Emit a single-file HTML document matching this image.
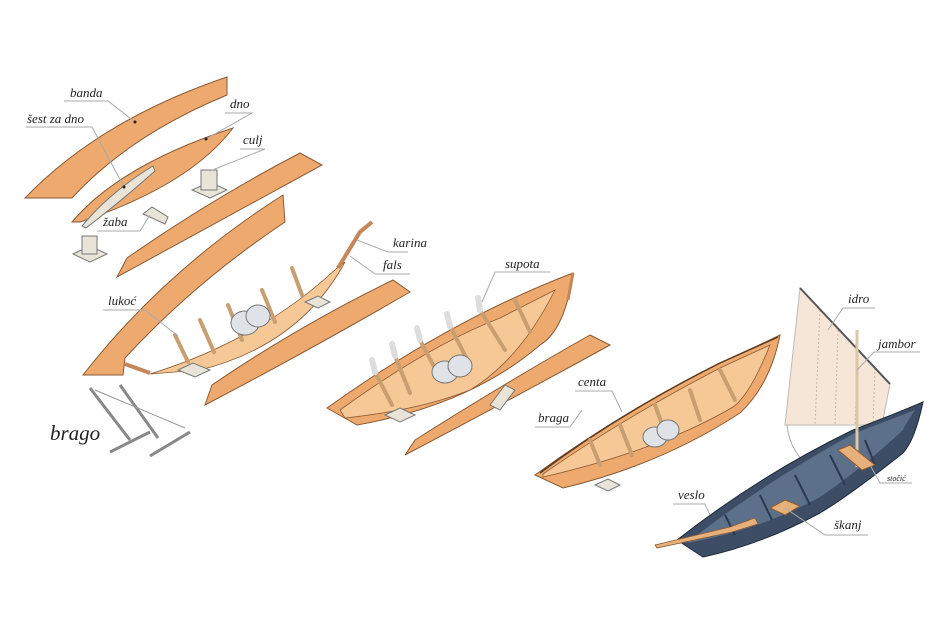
<!DOCTYPE html>
<html><head><meta charset="utf-8"><style>
html,body{margin:0;padding:0;background:#fff;}
svg{display:block;}
text{font-family:"Liberation Serif","DejaVu Serif",serif;font-style:italic;fill:#222;font-size:13px;}
.l{stroke:#aaa;stroke-width:1;fill:none;}
.p{fill:#eeaa6e;stroke:#8a5a34;stroke-width:1;}
.p2{fill:#f6c896;stroke:#8a5a34;stroke-width:0.8;}
.fr{fill:none;stroke:#c99e70;stroke-width:4;stroke-linecap:round;}
.fb{fill:none;stroke:#2c3a50;stroke-width:2;}
.w{fill:#e8e4d8;stroke:#777;stroke-width:1;}
.st{fill:#dfe2e6;stroke:#777;stroke-width:1;}
.d{fill:#222;}
</style></head><body>
<svg width="950" height="633" viewBox="0 0 950 633">
<!-- banda plank -->
<path class="p" d="M25,198 Q100,120 227,77 L227,95 Q130,135 72,198 Z"/>
<!-- dno -->
<path class="p" d="M72,222 Q120,165 233,128 Q190,185 80,222 Z"/>
<path class="w" d="M82,226 Q110,192 153,166 L155,171 Q120,202 86,228 Z"/>
<!-- culj -->
<path class="w" d="M192,190 L210,182 L227,190 L210,198 Z"/>
<rect class="w" x="201" y="170" width="16" height="20"/>
<!-- zaba -->
<path class="w" d="M143,214 L152,207 L168,217 L165,224 Z"/>
<!-- block -->
<path class="w" d="M73,254 L90,246 L107,254 L90,262 Z"/>
<rect class="w" x="82" y="236" width="15" height="18"/>
<!-- plank 2 -->
<path class="p" d="M127,258 Q210,200 300,153 L322,165 Q230,215 117,277 Z"/>
<!-- boat 1 -->
<path class="p2" d="M150,374 Q260,340 337,268 L345,262 Q300,345 200,370 Z"/>
<path class="p" d="M83,375 Q165,270 283,195 L285,222 Q195,282 125,358 L123,375 Z"/>
<path d="M338,268 L360,232 L372,222" stroke="#c5875a" stroke-width="4" fill="none"/>
<path d="M125,364 L150,373" stroke="#c5875a" stroke-width="4" fill="none"/>
<g class="fr"><path d="M175,335 L188,362"/><path d="M200,320 L214,352"/><path d="M228,305 L242,340"/><path d="M262,290 L275,322"/><path d="M292,268 L302,295"/></g>
<path class="w" d="M178,370 L193,363 L210,370 L195,377 Z"/>
<path class="w" d="M305,302 L318,296 L330,302 L318,308 Z"/>
<ellipse class="st" cx="245" cy="323" rx="14" ry="12"/><ellipse class="st" cx="258" cy="316" rx="12" ry="11"/>
<!-- plank 3 -->
<path class="p" d="M212,385 Q300,325 393,280 L410,292 Q310,350 205,405 Z"/>
<!-- brago -->
<g stroke="#888" stroke-width="3" fill="none"><path d="M90,388 L130,440"/><path d="M120,385 L158,438"/><path d="M110,452 L150,432"/><path d="M150,456 L190,432"/></g>
<path d="M95,390 L185,428" stroke="#999" stroke-width="1" fill="none"/>
<!-- boat 2 -->
<path class="p" d="M327,408 Q450,320 573,273 Q565,330 540,345 Q470,405 357,425 Z"/>
<path class="p2" d="M340,410 Q430,345 500,318 L555,290 Q520,360 470,390 Q420,410 345,418 Z"/>
<path d="M573,273 L568,300" stroke="#c5875a" stroke-width="3"/>
<g class="fr"><path d="M375,372 L392,405"/><path d="M395,356 L410,393"/><path d="M420,340 L440,378"/><path d="M450,326 L470,365"/><path d="M480,310 L505,350"/><path d="M515,300 L530,332"/></g>
<g stroke="#ddd" stroke-width="6" stroke-linecap="round"><path d="M375,372 L372,360"/><path d="M395,356 L392,344"/><path d="M420,340 L417,328"/><path d="M450,326 L447,314"/><path d="M480,310 L478,298"/></g>
<ellipse class="st" cx="445" cy="372" rx="13" ry="11"/><ellipse class="st" cx="460" cy="366" rx="12" ry="11"/>
<path class="w" d="M385,415 L400,408 L415,415 L400,422 Z"/>
<!-- plank 4 -->
<path class="p" d="M415,440 Q510,380 590,335 L610,345 Q510,400 405,455 Z"/>
<path class="w" d="M490,405 L505,385 L515,390 L500,410 Z"/>
<!-- boat 3 -->
<path class="p" d="M535,475 Q620,413 720,363 Q760,345 780,335 Q770,385 740,413 Q660,465 563,488 Z"/>
<path class="p2" d="M543,474 Q620,420 720,368 L770,345 Q750,395 733,407 Q660,450 543,477 Z"/>
<path d="M540,473 Q620,413 720,363 L778,337" stroke="#5a3a20" stroke-width="1.5" fill="none"/>
<g class="fr" stroke-width="3"><path d="M590,440 L600,465"/><path d="M620,425 L632,455"/><path d="M655,405 L668,440"/><path d="M690,390 L700,420"/><path d="M720,370 L735,400"/></g>
<ellipse class="st" cx="655" cy="437" rx="12" ry="10"/><ellipse class="st" cx="668" cy="430" rx="11" ry="10"/>
<path class="w" d="M595,485 L608,479 L620,485 L608,491 Z"/>
<!-- sail -->
<path d="M800,288 L890,384 L882,425 L785,425 Z" fill="#f6e6d8" stroke="#bbb" stroke-width="1"/>
<g stroke="#c9b7a6" stroke-dasharray="2,2"><line x1="820" y1="310" x2="815" y2="425"/><line x1="838" y1="330" x2="835" y2="425"/><line x1="858" y1="350" x2="855" y2="425"/><line x1="875" y1="368" x2="873" y2="425"/></g>
<path d="M800,288 L890,384" stroke="#555" stroke-width="2"/>
<path d="M787,425 Q790,455 815,470" stroke="#aaa" fill="none"/>
<!-- blue boat -->
<path d="M677,540 Q760,475 853,430 Q900,412 923,402 Q915,440 903,453 Q850,495 820,513 Q760,545 703,557 Z" fill="#3d4d66" stroke="#1f2a3a" stroke-width="1"/>
<path d="M687,543 Q760,485 853,434 L915,410 Q905,425 903,430 Q860,470 820,497 Q760,530 687,543 Z" fill="#5d7089"/>
<g class="fb"><path d="M725,515 L735,535"/><path d="M760,495 L772,520"/><path d="M795,475 L810,505"/><path d="M830,455 L845,485"/><path d="M865,440 L875,465"/></g>
<line x1="857" y1="330" x2="857" y2="467" stroke="#d8c8a8" stroke-width="3"/>
<path d="M838,450 L850,445 L875,465 L862,470 Z" fill="#e6b07a" stroke="#8a5a34"/>
<path d="M770,508 L785,500 L800,506 L785,515 Z" fill="#e6b07a" stroke="#8a5a34"/>
<path d="M655,545 L730,527 L755,518 L758,524 L732,532 L657,548 Z" fill="#e6b07a" stroke="#8a5a34" stroke-width="0.8"/>
<!-- labels -->
<text x="70" y="97">banda</text><path class="l" d="M64,101 L108,101 L135,122"/><circle class="d" cx="135" cy="122" r="1.5"/>
<text x="27" y="123">šest za dno</text><path class="l" d="M26,127 L92,127 L124,187"/><circle class="d" cx="124" cy="187" r="1.5"/>
<text x="230" y="108">dno</text><path class="l" d="M225,113 L252,113 L206,139"/><circle class="d" cx="206" cy="139" r="1.5"/>
<text x="243" y="144">culj</text><path class="l" d="M240,149 L265,149 L210,171"/>
<text x="103" y="226">žaba</text><path class="l" d="M97,231 L140,231 L150,215"/>
<text x="393" y="247">karina</text><path class="l" d="M357,240 L388,252 L408,252"/>
<text x="383" y="269">fals</text><path class="l" d="M350,256 L375,274 L410,274"/>
<text x="108" y="305">lukoć</text><path class="l" d="M103,310 L145,310 L178,336"/>
<text x="505" y="268">supota</text><path class="l" d="M482,302 L495,272 L550,272"/>
<text x="50" y="440" style="font-size:21px">brago</text>
<text x="578" y="386">centa</text><path class="l" d="M575,391 L612,391 L622,412"/>
<text x="538" y="422">braga</text><path class="l" d="M535,427 L570,427 L582,410"/>
<text x="848" y="303">idro</text><path class="l" d="M828,330 L843,308 L875,308"/>
<text x="878" y="348">jambor</text><path class="l" d="M857,370 L874,352 L920,352"/>
<text x="887" y="481" style="font-size:8px">stočić</text><path class="l" d="M870,465 L880,483 L912,483"/>
<text x="678" y="499">veslo</text><path class="l" d="M673,504 L705,504 L710,515"/>
<text x="834" y="529">škanj</text><path class="l" d="M785,508 L825,535 L868,535"/>
</svg>
</body></html>
